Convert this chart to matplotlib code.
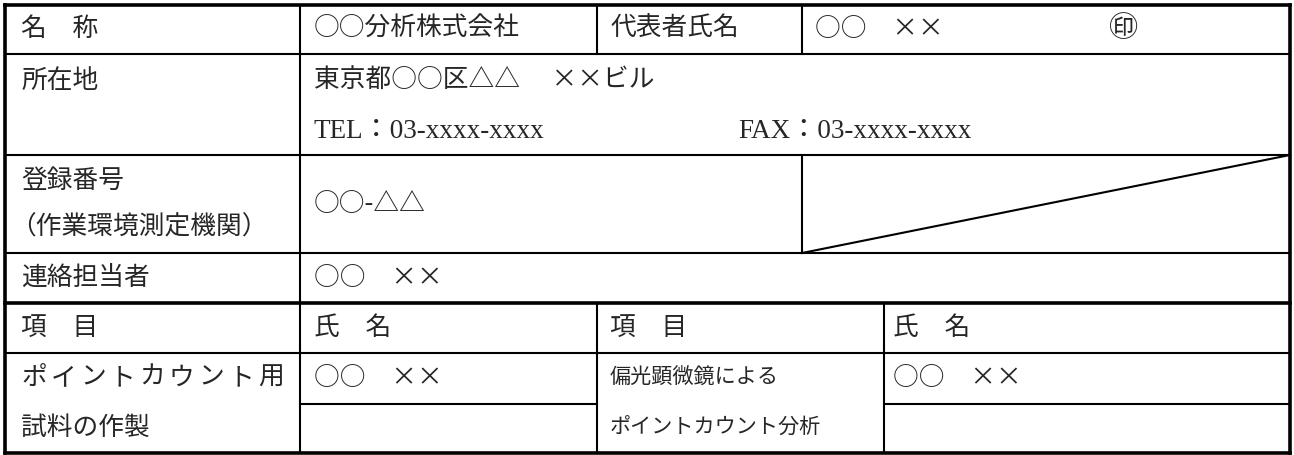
import matplotlib
matplotlib.use('Agg')
import matplotlib.pyplot as plt

plt.rcParams['font.family'] = ['Noto Sans CJK JP', 'DejaVu Sans']

# ## Table text (Japanese form)

name_label = '名　称'
company = '○○分析株式会社'
rep_label = '代表者氏名'
person = '○○　××'
seal = '㊞'
addr_label = '所在地'
address = '東京都○○区△△　 ××ビル'
tel = 'TEL：03-xxxx-xxxx'
fax = 'FAX：03-xxxx-xxxx'
reg_label = ['登録番号', '（作業環境測定機関）']
reg_no = '○○-△△'
contact_label = '連絡担当者'
item_label = '項　目'
staff_label = '氏　名'
task1 = ['ポイントカウント用', '試料の作製']
task2 = ['偏光顕微鏡による', 'ポイントカウント分析']

# ## Layout (pixels)

W, H = 1294, 455
cols = [5, 300, 597, 802, 884, 1290]
rows = [5, 54, 155, 253, 303, 353, 404, 453]
fs = 18.5
fs_small = 15.2
ink = '#262626'
lw = 1.5
lw_thick = 2.6

fig = plt.figure(figsize=(W / 100, H / 100), dpi=100)
ax = fig.add_axes([0, 0, 1, 1])
ax.set_xlim(0, W)
ax.set_ylim(H, 0)
ax.axis('off')

L, R = cols[0], cols[-1]

def hline(y, x0, x1, w=lw):
    ax.plot([x0, x1], [y, y], color='black', lw=w, solid_capstyle='projecting')

def vline(x, y0, y1, w=lw):
    ax.plot([x, x], [y0, y1], color='black', lw=w, solid_capstyle='projecting')

# horizontal rules
for y in rows[1:4] + [rows[5]]:
    hline(y, L, R)
hline(rows[4], L, R, lw_thick)
hline(rows[6], cols[1], cols[2])
hline(rows[6], cols[4], R)

# vertical rules
vline(cols[1], rows[0], rows[-1])
vline(cols[2], rows[0], rows[1])
vline(cols[2], rows[4], rows[-1])
vline(cols[3], rows[0], rows[1])
vline(cols[3], rows[2], rows[3])
vline(cols[4], rows[4], rows[-1])

# diagonal in empty cell
ax.plot([cols[3], R], [rows[3], rows[2]], color='black', lw=lw)

# outer border
hline(rows[0], L, R, lw_thick)
hline(rows[-1], L, R, lw_thick)
vline(L, rows[0], rows[-1], lw_thick)
vline(R, rows[0], rows[-1], lw_thick)

def txt(x, y, s, size=fs, **kw):
    ax.text(x, y, s, fontsize=size, color=ink, ha=kw.pop('ha', 'left'), va='center', **kw)

tx1, tx2, tx3, tx4 = 21, 314, 610, 893
serif = ['Liberation Serif', 'Noto Sans CJK JP']

# row 1
txt(tx1, 29, name_label)
txt(tx2, 29, company)
txt(tx3, 29, rep_label)
txt(815, 29, person)
txt(1124, 29, seal, size=21, ha='center')

# address
txt(tx1, 81, addr_label)
txt(tx2, 81, address)
txt(tx2, 132, tel, size=19.5, family=serif)
txt(738, 132, fax, size=19.5, family=serif)

# registration
txt(tx1, 181, reg_label[0])
txt(10, 228, reg_label[1])
txt(tx2, 204, reg_no)

# contact
txt(tx1, 278, contact_label)
txt(tx2, 278, person)

# staff section
txt(tx1, 328, item_label)
txt(tx2, 328, staff_label)
txt(tx3, 328, item_label)
txt(tx4, 328, staff_label)

# justified label across the first column
pitch = 29.6
for i, ch in enumerate(task1[0]):
    txt(tx1 + i * pitch, 378, ch)
txt(tx1, 428, task1[1])
txt(tx2, 378, person)
txt(tx3, 378, task2[0], size=fs_small)
txt(tx3, 428, task2[1], size=fs_small)
txt(tx4, 378, person)

fig.savefig('out.png', dpi=100, facecolor='white')
